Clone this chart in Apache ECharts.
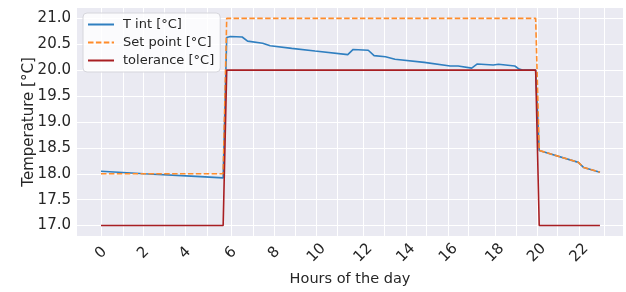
<!DOCTYPE html>
<html>
<head>
<meta charset="utf-8">
<script src="https://cdn.jsdelivr.net/npm/echarts@6/dist/echarts.min.js"></script>
<style>
  html, body { margin: 0; padding: 0; background: #fff; }
  #chart { width: 626px; height: 292px; }
</style>
</head>
<body>
<div id="chart"></div>
<script>
// x is the position along the time axis (about one unit per hour)
const tIntX = [0, 2.0, 4.4, 5.667, 5.833, 6.0, 6.55, 6.8, 7.5, 7.85, 8.85, 9.93, 11.45, 11.7, 12.4, 12.67, 13.2, 13.64, 15.0, 16.2, 16.57, 17.2, 17.46, 18.2, 18.44, 19.2, 19.4, 19.6, 20.167, 20.333, 20.42, 22.15, 22.4, 23.15];
const tIntValues = [18.05, 18.0, 17.95, 17.92, 20.63, 20.65, 20.64, 20.56, 20.52, 20.47, 20.42, 20.37, 20.30, 20.40, 20.385, 20.28, 20.26, 20.21, 20.15, 20.08, 20.08, 20.04, 20.12, 20.10, 20.115, 20.08, 20.02, 20.0, 20.0, 18.45, 18.43, 18.22, 18.12, 18.03];

const setX = [0, 5.667, 5.833, 20.167, 20.333, 20.42, 22.15, 22.4, 23.15];
const setValues = [18.0, 18.0, 21.0, 21.0, 18.45, 18.43, 18.22, 18.12, 18.03];

const tolX = [0, 5.667, 5.833, 20.167, 20.333, 23.15];
const tolValues = [17, 17, 20, 20, 17, 17];

// hour ticks: where each hour sits on the axis, and its label (odd hours unlabelled)
const hourTickPos = [0, 1.02, 1.96, 2.94, 3.90, 4.91, 6.03, 7.07, 8.03, 9.0, 10.0, 10.98, 12.17, 13.15, 14.15, 15.11, 16.12, 17.04, 18.28, 19.26, 20.22, 21.19, 22.19, 23.34];
const hourTickText = ['0', '', '2', '', '4', '', '6', '', '8', '', '10', '', '12', '', '14', '', '16', '', '18', '', '20', '', '22', ''];
const tempTicks = [17.0, 17.5, 18.0, 18.5, 19.0, 19.5, 20.0, 20.5, 21.0];

const zip = (xs, ys) => xs.map((x, i) => [x, ys[i]]);
const labelPos = hourTickPos.filter((p, i) => hourTickText[i] !== '');
const labelOf = v => {
  const i = hourTickPos.findIndex(p => Math.abs(p - v) < 1e-6);
  return i < 0 ? '' : hourTickText[i];
};

const chart = echarts.init(document.getElementById('chart'), null, { renderer: 'canvas' });
const font = 'DejaVu Sans';
const ink = '#262626';

const option = {
  animation: false,
  backgroundColor: '#fff',
  textStyle: { fontFamily: font },
  grid: {
    left: 77, right: 3, top: 8, bottom: 55,
    show: true, backgroundColor: '#eaeaf2', borderWidth: 0
  },
  legend: {
    orient: 'vertical',
    left: 83, top: 13,
    backgroundColor: 'rgba(255,255,255,0.8)',
    borderColor: '#d6d6dc', borderWidth: 1, borderRadius: 4,
    padding: [5, 6, 5, 4],
    itemWidth: 26, itemHeight: 14, itemGap: 5,
    itemStyle: { opacity: 0 },
    textStyle: { fontSize: 13, color: ink, fontFamily: font, padding: [0, 0, 0, 4] }
  },
  xAxis: {
    type: 'value',
    min: -1.114, max: 24.22,
    name: 'Hours of the day',
    nameLocation: 'middle', nameGap: 30,
    nameTextStyle: { fontSize: 14.5, color: ink, fontFamily: font },
    axisLine: { show: false },
    axisTick: { show: false, customValues: hourTickPos },
    splitLine: { show: true, lineStyle: { color: '#ffffff', width: 1 } },
    axisLabel: {
      customValues: labelPos,
      formatter: labelOf,
      rotate: 45, align: 'center', verticalAlign: 'middle', margin: 17,
      fontSize: 15, color: ink, fontFamily: font
    }
  },
  yAxis: {
    type: 'value',
    min: 16.8, max: 21.2,
    name: 'Temperature [°C]',
    nameLocation: 'middle', nameGap: 40,
    nameMoveOverlap: false,
    nameTextStyle: { fontSize: 15, color: ink, fontFamily: font },
    axisLine: { show: false },
    axisTick: { show: false, customValues: tempTicks },
    splitLine: { show: true, lineStyle: { color: '#ffffff', width: 1 } },
    axisLabel: {
      customValues: tempTicks,
      margin: 6, fontSize: 15, color: ink, fontFamily: font,
      formatter: v => v.toFixed(1)
    }
  },
  series: [
    {
      name: 'T int [°C]', type: 'line', symbol: 'none',
      data: zip(tIntX, tIntValues),
      lineStyle: { color: '#2f7fc0', width: 1.6 },
      itemStyle: { color: '#2f7fc0' }
    },
    {
      name: 'Set point [°C]', type: 'line', symbol: 'none',
      data: zip(setX, setValues),
      lineStyle: { color: '#ff8c2a', width: 1.6, type: [5.5, 2.4] },
      itemStyle: { color: '#ff8c2a' }
    },
    {
      name: 'tolerance [°C]', type: 'line', symbol: 'none',
      data: zip(tolX, tolValues),
      lineStyle: { color: '#a81e22', width: 1.6 },
      itemStyle: { color: '#a81e22' }
    }
  ]
};

chart.setOption(option);
</script>
</body>
</html>
